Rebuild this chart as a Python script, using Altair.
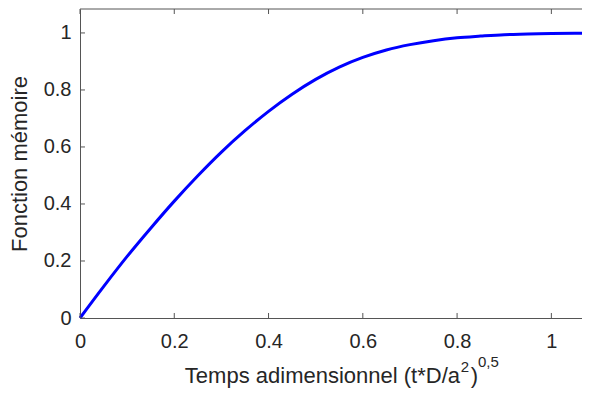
import altair as alt
import pandas as pd

# values
x_vals = [0.0, 0.05, 0.10, 0.15, 0.20, 0.25, 0.30, 0.35, 0.40, 0.45, 0.50,
          0.55, 0.60, 0.65, 0.70, 0.75, 0.80, 0.85, 0.90, 0.95, 1.00, 1.05, 1.065]
y_vals = [0.0, 0.110, 0.216, 0.315, 0.410, 0.499, 0.582, 0.657, 0.725, 0.785, 0.837,
          0.880, 0.914, 0.940, 0.959, 0.973, 0.983, 0.989, 0.994, 0.996, 0.998, 0.999, 0.9992]
x_ticks = [0, 0.2, 0.4, 0.6, 0.8, 1.0]
y_ticks = [0, 0.2, 0.4, 0.6, 0.8, 1.0]

X_MAX = 1.065
Y_MAX = 1.084
AX = "#555555"
FONT = "Liberation Sans"

curve = pd.DataFrame({"x": x_vals, "y": y_vals})
xs = alt.Scale(domain=[0, X_MAX], nice=False, zero=False)
ys = alt.Scale(domain=[0, Y_MAX], nice=False)

lab = "datum.value == 0 ? '0' : datum.value == 1 ? '1' : format(datum.value, '.1f')"

line = alt.Chart(curve).mark_line(color="#0000FF", strokeWidth=3, interpolate="monotone").encode(
    x=alt.X("x:Q", scale=xs,
            axis=alt.Axis(values=x_ticks, title=None, ticks=False, grid=False,
                          labelFontSize=20, labelFont=FONT, labelColor="#262626",
                          labelPadding=13, domainColor=AX, domainWidth=1,
                          labelFlush=False, labelExpr=lab)),
    y=alt.Y("y:Q", scale=ys,
            axis=alt.Axis(values=y_ticks, title="Fonction mémoire", ticks=False, grid=False,
                          labelFontSize=20, labelFont=FONT, labelColor="#262626",
                          labelPadding=9, domainColor=AX, domainWidth=1,
                          titleFont=FONT, titleFontSize=22, titleFontWeight="normal",
                          titleColor="#262626", titlePadding=12,
                          labelFlush=False, labelExpr=lab)),
)

tlen_y = 5 / 285.0
tlen_x = 5 / 471.8
xt = pd.DataFrame({"x": x_ticks})
bottom_ticks = alt.Chart(xt).mark_rule(color=AX, strokeWidth=1).encode(
    x=alt.X("x:Q", scale=xs), y=alt.datum(0), y2=alt.datum(tlen_y))
top_ticks = alt.Chart(xt).mark_rule(color=AX, strokeWidth=1).encode(
    x=alt.X("x:Q", scale=xs), y=alt.datum(Y_MAX - tlen_y), y2=alt.datum(Y_MAX))
yt = pd.DataFrame({"y": y_ticks})
left_ticks = alt.Chart(yt).mark_rule(color=AX, strokeWidth=1).encode(
    y=alt.Y("y:Q", scale=ys), x=alt.datum(0), x2=alt.datum(tlen_x))
top_border = alt.Chart(pd.DataFrame({"a": [0]})).mark_rule(color=AX, strokeWidth=1).encode(
    x=alt.datum(0), x2=alt.datum(X_MAX), y=alt.datum(Y_MAX))

def txt(s, x, y, size, align="left"):
    return alt.Chart(pd.DataFrame({"t": [s]})).mark_text(
        font=FONT, fontSize=size, color="#262626", align=align, baseline="alphabetic"
    ).encode(text="t:N", x=alt.value(x), y=alt.value(y))

t_main = txt("Temps adimensionnel (t*D/a", 380, 373.5, 22, "right")
t_sq = txt("2", 380.7, 362.5, 15)
t_par = txt(")", 390.7, 373.5, 22)
t_exp = txt("0,5", 398, 357.5, 15)

chart = alt.layer(line, bottom_ticks, top_ticks, left_ticks, top_border,
                  t_main, t_sq, t_par, t_exp).properties(
    width=502, height=309,
    autosize=alt.AutoSizeParams(type="none"),
    padding={"left": 72, "top": 1, "right": 0, "bottom": 70},
).configure_view(stroke=None)

chart.save("out.html", embed_options={"renderer": "svg", "actions": False})
